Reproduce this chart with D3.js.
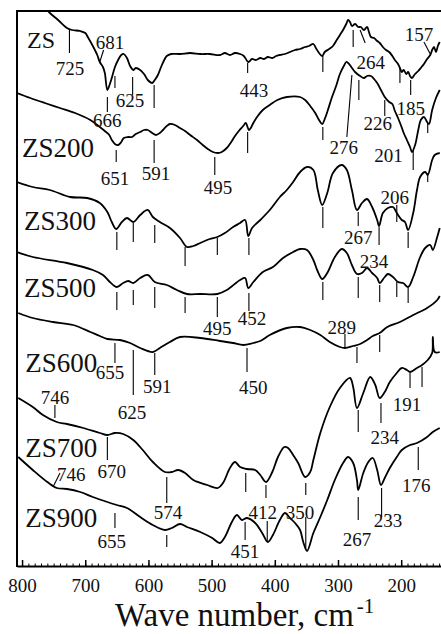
<!DOCTYPE html>
<html>
<head>
<meta charset="utf-8">
<script src="https://cdn.jsdelivr.net/npm/d3@7"></script>
<style>
  body { margin: 0; background: #fff; }
  svg { display: block; }
  text { font-family: "Liberation Serif", "DejaVu Serif", serif; }
</style>
</head>
<body>
<div id="chart"></div>
<script>

// --------------------------------------
//  Data (wave number cm-1, transmittance in arbitrary offset units)
// --------------------------------------

const samples = ["ZS", "ZS200", "ZS300", "ZS500", "ZS600", "ZS700", "ZS900"];

const xTickValues = [800, 700, 600, 500, 400, 300, 200];

const zs = [[765,560],[756,553],[743,546],[729,538],[721,536],[708,535],[700,533],[696,529],[688,520],[681,511],[677,504],[672,499],[669,493],[665,476],[661,482],[658,488],[653,499],[648,506],[643,511],[639,512],[634,508],[629,500],[624,496],[620,498],[613,496],[607,492],[601,486],[594,483],[590,486],[585,491],[580,499],[575,506],[571,510],[564,512],[550,512],[534,513],[518,512],[503,512],[487,511],[479,513],[471,511],[463,513],[455,512],[449,510],[442,504],[436,507],[430,506],[423,508],[417,507],[411,509],[404,508],[398,510],[392,511],[384,512],[376,514],[368,516],[360,517],[352,519],[346,520],[339,522],[335,518],[330,513],[325,510],[321,514],[314,517],[308,520],[302,526],[297,531],[292,536],[287,542],[284,546],[281,544],[278,540],[273,542],[268,539],[264,539],[259,536],[254,539],[251,534],[248,529],[243,528],[238,525],[234,523],[229,519],[224,516],[219,514],[214,510],[210,506],[205,502],[202,498],[199,494],[196,496],[192,492],[189,494],[186,490],[183,488],[178,492],[173,495],[169,498],[164,502],[159,507],[154,511],[151,516],[148,519],[145,514],[142,520],[139,524]];

const zs200 = [[808,473],[787,468],[764,463],[740,458],[716,453],[692,446],[677,439],[669,435],[662,431],[658,426],[653,422],[648,421],[643,424],[639,428],[632,429],[626,429],[620,432],[613,434],[607,436],[601,436],[594,433],[588,431],[582,433],[577,436],[571,440],[566,442],[558,441],[550,438],[542,435],[534,431],[523,426],[514,421],[506,417],[498,414],[490,413],[484,414],[476,418],[469,424],[463,430],[457,435],[450,440],[446,443],[441,436],[438,438],[434,443],[427,450],[419,456],[408,461],[396,466],[381,469],[360,469],[352,466],[344,460],[336,453],[330,446],[325,442],[321,447],[316,456],[310,468],[303,480],[297,492],[290,501],[287,504],[284,503],[279,499],[273,494],[265,490],[259,488],[254,490],[248,490],[243,487],[238,483],[232,476],[226,469],[219,464],[214,462],[210,455],[205,448],[200,440],[196,433],[191,426],[186,419],[183,414],[178,421],[173,436],[169,446],[164,449],[159,444],[156,442],[151,456],[145,468],[139,476]];

const zs300 = [[808,384],[783,379],[756,376],[724,369],[697,368],[677,363],[665,354],[658,344],[651,337],[642,344],[634,348],[624,344],[613,351],[601,356],[593,349],[582,344],[566,338],[550,328],[539,319],[529,320],[518,323],[503,327],[491,329],[479,333],[466,339],[455,343],[447,346],[442,330],[436,338],[423,346],[408,356],[392,369],[381,376],[371,384],[360,394],[349,399],[339,396],[332,376],[325,361],[317,373],[308,393],[294,401],[286,396],[278,376],[270,356],[262,363],[254,367],[246,359],[238,346],[235,340],[229,353],[221,358],[213,359],[207,353],[199,346],[194,344],[189,336],[181,353],[175,376],[170,389],[162,394],[158,391],[151,406],[147,411],[139,413]];

const zs500 = [[808,314],[783,309],[729,303],[688,296],[672,291],[661,284],[650,279],[640,283],[632,285],[624,283],[613,288],[601,291],[590,284],[571,281],[555,276],[539,272],[518,272],[491,272],[476,276],[455,286],[447,288],[442,278],[434,284],[419,294],[403,299],[387,308],[371,314],[360,317],[349,316],[339,306],[333,296],[325,287],[317,293],[305,309],[294,317],[286,313],[278,301],[270,292],[262,293],[254,298],[246,293],[238,288],[234,283],[226,289],[221,292],[213,289],[205,284],[197,283],[189,279],[181,289],[170,309],[162,318],[154,321],[150,316],[143,329],[139,338]];

const zs600 = [[806,253],[783,248],[751,244],[719,241],[692,234],[677,230],[665,227],[645,226],[629,223],[613,218],[593,214],[582,218],[566,224],[550,229],[518,228],[487,225],[466,223],[450,221],[434,223],[423,225],[408,231],[381,238],[360,239],[344,236],[328,231],[313,224],[297,219],[289,218],[276,220],[265,222],[254,226],[245,230],[234,233],[222,239],[202,244],[181,251],[159,258],[143,266],[139,270]];

const zs700 = [[806,168],[783,159],[767,151],[745,144],[729,142],[703,138],[677,133],[665,131],[653,133],[640,132],[624,126],[609,116],[593,104],[574,94],[563,94],[553,96],[542,93],[529,86],[507,81],[490,78],[482,83],[471,98],[463,104],[455,99],[444,97],[431,96],[423,91],[414,84],[404,94],[395,109],[385,119],[379,118],[371,111],[363,103],[352,89],[344,94],[339,106],[328,133],[313,159],[297,178],[281,188],[276,179],[270,158],[260,173],[249,189],[241,181],[234,168],[226,174],[218,184],[207,193],[199,198],[191,196],[186,194],[175,198],[167,201],[158,206],[151,213],[150,229],[147,214],[139,214]];

const zs900 = [[806,109],[783,96],[760,84],[745,78],[729,77],[708,74],[688,69],[665,64],[650,61],[634,58],[613,49],[593,41],[574,36],[563,38],[550,42],[539,39],[518,34],[499,28],[487,23],[479,29],[468,44],[460,51],[452,46],[444,48],[431,43],[420,33],[411,24],[403,31],[392,46],[384,53],[376,48],[368,43],[360,36],[355,24],[349,15],[339,33],[328,49],[317,66],[305,86],[292,103],[284,109],[276,103],[270,86],[268,76],[260,93],[252,104],[245,108],[238,96],[232,81],[226,88],[218,98],[207,109],[199,116],[186,121],[175,123],[159,129],[150,134],[139,138]];

const spectra = [zs, zs200, zs300, zs500, zs600, zs700, zs900];

// --------------------------------------
//  Annotations (band marks, labels, leader lines)
// --------------------------------------

// [wave number, top, bottom]
const bandMarks = [
  [725,536,513],[665,469,454],[653,490,478],[625,489,471],[591,481,458],[443,503,493],[324,510,494],[276,536,519],[202,498,483],[185,486,471],
  [651,416,404],[591,426,403],[495,409,391],[443,434,413],[324,439,426],[267,486,466],[226,466,450],[181,416,396],[158,443,433],
  [650,334,316],[624,343,324],[590,341,323],[542,319,300],[491,328,311],[441,328,311],[324,359,338],[268,354,340],[235,339,321],[207,361,344],[189,334,318],[158,393,384],
  [650,274,256],[624,276,261],[590,279,258],[542,269,253],[491,269,249],[441,273,255],[324,284,266],[268,289,268],[234,281,264],[207,284,269],[189,278,263],
  [653,223,203],[624,216,171],[590,213,191],[444,218,194],[289,232,219],[270,219,203],[234,231,214],
  [748,161,148],[665,129,106],[571,89,63],[446,93,74],[414,81,68],[351,83,71],[268,156,134],[232,163,143],[186,193,178],[167,199,179],
  [653,53,38],[571,31,19],[447,44,26],[412,45,25],[351,49,16],[268,69,46],[231,78,49],[173,119,96]
];

// [x1, y1, x2, y2]
const leaders = [
  [677,504,671,516],[265,536,257,523],[164,524,154,512],
  [286,429,278,491],
  [751,79,740,93]
];

// [text, wave number, level]
const bandLabels = [
  ["725",724,498],["681",661,524],["625",629,466],["666",665,446],["443",433,476],["264",248,504],["185",185,458],["157",172,532],
  ["651",653,388],["591",588,393],["495",490,379],["276",291,419],["226",237,443],["201",220,411],
  ["206",210,369],["267",268,329],
  ["495",491,238],["452",436,248],["234",243,305],
  ["655",661,194],["625",626,154],["591",586,180],["450",434,179],["289",294,239],
  ["746",748,169],["670",658,95],["574",569,54],["191",191,162],["234",226,129],
  ["746",722,92],["655",658,25],["451",447,15],["412",419,54],["350",360,54],["267",270,27],["233",221,46],["176",176,81]
];

// [wave number, level] of each sample name
const sampleLabelPos = [[792,518],[800,409],[797,336],[797,269],[795,194],[795,109],[795,39]];

// --------------------------------------
//  Canvas
// --------------------------------------

const width = 441, height = 634;
const serif = "Liberation Serif, DejaVu Serif, serif";

const svg = d3.select("#chart")
  .append("svg")
    .attr("width", width)
    .attr("height", height)
    .attr("viewBox", [0, 0, width, height]);

const x = d3.scaleLinear()
    .domain([808, 137])
    .range([17, 441]);

const y = d3.scaleLinear()
    .domain([0, 554])
    .range([566, 12]);

svg.append("clipPath")
    .attr("id", "plot-clip")
  .append("rect")
    .attr("x", 17)
    .attr("y", 11)
    .attr("width", 424)
    .attr("height", 555);

// --------------------------------------
//  Axes
// --------------------------------------

svg.append("g")
    .attr("transform", "translate(0, 566)")
    .call(d3.axisBottom(x)
        .tickValues(d3.range(140, 801, 10))
        .tickSize(-2.5)
        .tickSizeOuter(0)
        .tickFormat(""))
    .call(g => g.select(".domain").attr("stroke-width", 2));

svg.append("g")
    .attr("class", "x-axis")
    .attr("transform", "translate(0, 566)")
    .call(d3.axisBottom(x)
        .tickValues(xTickValues)
        .tickSize(-6)
        .tickSizeOuter(0)
        .tickPadding(13))
    .call(g => g.attr("font-family", serif))
    .call(g => g.select(".domain").remove())
    .call(g => g.selectAll("line").attr("stroke-width", 1.5))
    .call(g => g.selectAll("text")
        .attr("font-family", serif)
        .attr("font-size", 19)
        .attr("fill", "#111"));

svg.append("line")
    .attr("x1", 17).attr("x2", 17)
    .attr("y1", 11).attr("y2", 567)
    .attr("stroke", "#000")
    .attr("stroke-width", 2);

svg.append("line")
    .attr("x1", 16).attr("x2", 441)
    .attr("y1", 11).attr("y2", 11)
    .attr("stroke", "#000")
    .attr("stroke-width", 2);

const title = svg.append("text")
    .attr("x", 115)
    .attr("y", 626)
    .attr("font-family", serif)
    .attr("font-size", 33)
    .attr("fill", "#111")
    .text("Wave number, cm");

title.append("tspan")
    .attr("dx", 3)
    .attr("dy", -13)
    .attr("font-size", 21)
    .text("-1");

// --------------------------------------
//  Spectra
// --------------------------------------

const line = d3.line()
    .x(d => x(d[0]))
    .y(d => y(d[1]))
    .curve(d3.curveCatmullRom.alpha(0.5));

svg.append("g")
    .attr("clip-path", "url(#plot-clip)")
  .selectAll(".spectrum")
  .data(spectra)
  .join("path")
    .attr("class", "spectrum")
    .attr("d", line)
    .attr("fill", "none")
    .attr("stroke", "#000")
    .attr("stroke-width", 1.8)
    .attr("stroke-linejoin", "round");

// --------------------------------------
//  Band marks and labels
// --------------------------------------

svg.selectAll(".band-mark")
  .data(bandMarks)
  .join("line")
    .attr("class", "band-mark")
    .attr("x1", d => x(d[0]))
    .attr("x2", d => x(d[0]))
    .attr("y1", d => y(d[1]))
    .attr("y2", d => y(d[2]))
    .attr("stroke", "#000")
    .attr("stroke-width", 1.1);

svg.selectAll(".leader")
  .data(leaders)
  .join("line")
    .attr("class", "leader")
    .attr("x1", d => x(d[0]))
    .attr("y1", d => y(d[1]))
    .attr("x2", d => x(d[2]))
    .attr("y2", d => y(d[3]))
    .attr("stroke", "#000")
    .attr("stroke-width", 1.1);

svg.selectAll(".band-label")
  .data(bandLabels)
  .join("text")
    .attr("class", "band-label")
    .attr("x", d => x(d[1]))
    .attr("y", d => y(d[2]))
    .attr("dy", "0.35em")
    .attr("text-anchor", "middle")
    .attr("font-family", serif)
    .attr("font-size", 19)
    .attr("fill", "#111")
    .text(d => d[0]);

svg.selectAll(".sample-label")
  .data(samples)
  .join("text")
    .attr("class", "sample-label")
    .attr("x", (d, i) => x(sampleLabelPos[i][0]))
    .attr("y", (d, i) => y(sampleLabelPos[i][1]))
    .attr("font-family", serif)
    .attr("font-size", (d, i) => i === 0 ? 24 : 27)
    .attr("fill", "#111")
    .text(d => d);

</script>
</body>
</html>
